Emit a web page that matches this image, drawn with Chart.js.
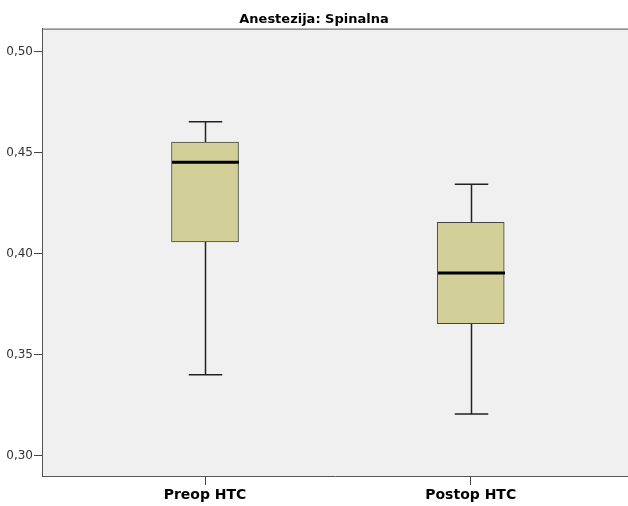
<!DOCTYPE html>
<html>
<head>
<meta charset="utf-8">
<script src="https://cdn.jsdelivr.net/npm/chart.js@4/dist/chart.umd.min.js"></script>
<style>
  html, body { margin: 0; padding: 0; background: #fff; }
  #wrap { width: 628px; height: 506px; }
</style>
</head>
<body>
<div id="wrap"><canvas id="box"></canvas></div>
<script>
// Boxplot: Anestezija: Spinalna
const groups = ["Preop HTC", "Postop HTC"];
const groupPos = [1, 2];
const whiskerLow = [0.340, 0.3205];
const q1 = [0.4057, 0.3652];
const median = [0.4452, 0.3903];
const q3 = [0.4552, 0.4155];
const whiskerHigh = [0.4653, 0.4343];
const yTicks = [0.30, 0.35, 0.40, 0.45, 0.50];

const plotBg = "#f0f0f0";
const boxFill = "#d3cf98";
const fontFam = "DejaVu Sans, Verdana, sans-serif";

// whiskers, caps and medians drawn through the scales
const boxExtras = {
  id: "boxExtras",
  beforeDraw(chart) {
    const { ctx, chartArea: a } = chart;
    ctx.save();
    ctx.fillStyle = plotBg;
    ctx.fillRect(a.left, a.top, a.right - a.left, a.bottom - a.top);
    ctx.strokeStyle = "#555";
    ctx.lineWidth = 1;
    ctx.beginPath();
    ctx.moveTo(a.left, a.top + 0.5);
    ctx.lineTo(a.right, a.top + 0.5);
    ctx.stroke();
    ctx.restore();
  },
  afterDatasetsDraw(chart) {
    const { ctx } = chart;
    const xs = chart.scales.x, ys = chart.scales.y;
    const meta = chart.getDatasetMeta(0);
    ctx.save();
    groupPos.forEach((p, i) => {
      const bar = meta.data[i];
      const cx = Math.round(xs.getPixelForValue(p)) + 0.5;
      const half = bar.width / 2;
      const cap = half / 2;
      const yLo = ys.getPixelForValue(whiskerLow[i]);
      const yQ1 = ys.getPixelForValue(q1[i]);
      const yQ3 = ys.getPixelForValue(q3[i]);
      const yHi = ys.getPixelForValue(whiskerHigh[i]);
      const yMed = ys.getPixelForValue(median[i]);

      ctx.strokeStyle = "#222";
      ctx.lineWidth = 1.5;
      ctx.beginPath();
      ctx.moveTo(cx, yQ3); ctx.lineTo(cx, yHi);
      ctx.moveTo(cx - cap, yHi); ctx.lineTo(cx + cap, yHi);
      ctx.moveTo(cx, yQ1); ctx.lineTo(cx, yLo);
      ctx.moveTo(cx - cap, yLo); ctx.lineTo(cx + cap, yLo);
      ctx.stroke();

      ctx.strokeStyle = "#000";
      ctx.lineWidth = 3;
      ctx.beginPath();
      ctx.moveTo(cx - half, yMed); ctx.lineTo(cx + half, yMed);
      ctx.stroke();
    });
    ctx.restore();
  }
};

new Chart(document.getElementById("box"), {
  type: "bar",
  data: {
    datasets: [{
      data: groupPos.map((p, i) => ({ x: p, y: [q1[i], q3[i]] })),
      backgroundColor: boxFill,
      borderColor: "#444",
      borderWidth: 1,
      borderSkipped: false,
      barThickness: 67
    }]
  },
  options: {
    responsive: true,
    maintainAspectRatio: false,
    animation: false,
    layout: { padding: 0 },
    plugins: {
      legend: { display: false },
      tooltip: { enabled: false },
      title: {
        display: true,
        text: "Anestezija: Spinalna",
        color: "#000",
        font: { family: fontFam, size: 13, weight: "bold", lineHeight: 1.2 },
        padding: { top: 12, bottom: 1 }
      }
    },
    scales: {
      x: {
        type: "linear",
        offset: false,
        min: 0.3865,
        max: 2.592,
        afterBuildTicks: (s) => { s.ticks = groupPos.map((v) => ({ value: v })); },
        afterFit: (s) => { s.height = 30; },
        grid: { offset: false, drawOnChartArea: false, drawTicks: true, tickLength: 9, color: "#444" },
        border: { color: "#555", width: 1 },
        ticks: {
          padding: 2,
          maxRotation: 0,
          color: "#000",
          font: { family: fontFam, size: 14, weight: "bold" },
          callback: (v) => groups[groupPos.indexOf(v)] || ""
        }
      },
      y: {
        min: 0.2898,
        max: 0.5114,
        afterBuildTicks: (s) => { s.ticks = yTicks.map((v) => ({ value: v })); },
        afterFit: (s) => { s.width = 42; },
        grid: { drawOnChartArea: false, drawTicks: true, tickLength: 8, color: "#444" },
        border: { color: "#555", width: 1 },
        ticks: {
          padding: 1,
          color: "#333",
          font: { family: fontFam, size: 12 },
          callback: (v) => v.toFixed(2).replace(".", ",")
        }
      }
    }
  },
  plugins: [boxExtras]
});
</script>
</body>
</html>
